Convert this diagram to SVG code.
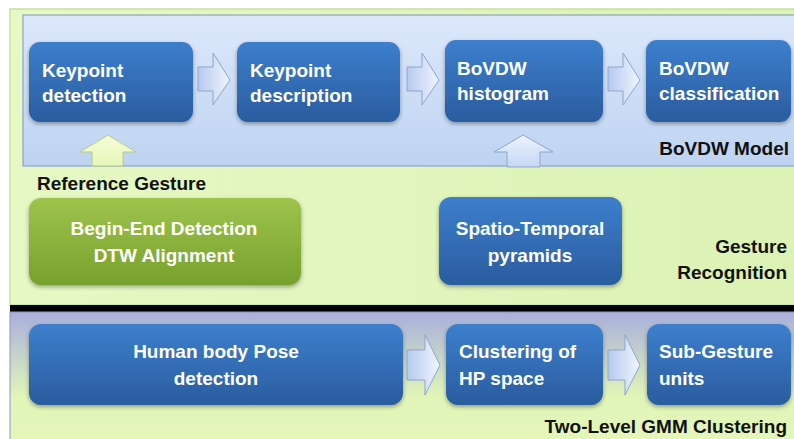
<svg xmlns="http://www.w3.org/2000/svg" width="794" height="439" viewBox="0 0 794 439">
  <defs>
    <linearGradient id="gOuter" x1="0" y1="0" x2="1" y2="0">
      <stop offset="0" stop-color="#e6f8c4"/>
      <stop offset="1" stop-color="#dcf2b4"/>
    </linearGradient>
    <linearGradient id="gInner" x1="0" y1="0" x2="0" y2="1">
      <stop offset="0" stop-color="#dde8fb"/>
      <stop offset="1" stop-color="#bed3f1"/>
    </linearGradient>
    <linearGradient id="gLower" x1="0" y1="0" x2="0" y2="1">
      <stop offset="0" stop-color="#a9afdc"/>
      <stop offset="0.65" stop-color="#e1f5b8"/>
      <stop offset="1" stop-color="#e4f6b8"/>
    </linearGradient>
    <linearGradient id="gNode" x1="0" y1="0" x2="0" y2="1">
      <stop offset="0" stop-color="#3d7fcd"/>
      <stop offset="1" stop-color="#2a5c9f"/>
    </linearGradient>
    <linearGradient id="gGreen" x1="0" y1="0" x2="0" y2="1">
      <stop offset="0" stop-color="#9ec44c"/>
      <stop offset="1" stop-color="#77a02d"/>
    </linearGradient>
    <linearGradient id="gArrow" x1="0" y1="0" x2="1" y2="0">
      <stop offset="0" stop-color="#b6caef"/>
      <stop offset="1" stop-color="#f0f5fe"/>
    </linearGradient>
    <linearGradient id="gArrowUp" x1="0" y1="1" x2="0" y2="0">
      <stop offset="0" stop-color="#c4d7f4"/>
      <stop offset="1" stop-color="#eef4fd"/>
    </linearGradient>
    <linearGradient id="gArrowGreen" x1="0" y1="1" x2="0" y2="0">
      <stop offset="0" stop-color="#e6f7b8"/>
      <stop offset="1" stop-color="#f5fcd8"/>
    </linearGradient>
    <filter id="shadow" x="-10%" y="-10%" width="120%" height="130%">
      <feDropShadow dx="0" dy="2" stdDeviation="2" flood-color="#000" flood-opacity="0.35"/>
    </filter>
  </defs>
  <style>
    .node { fill: url(#gNode); filter: url(#shadow); }
    .gnode { fill: url(#gGreen); filter: url(#shadow); }
    .ntxt { font-family: "Liberation Sans", Arial, sans-serif; font-weight: bold; font-size: 19px; fill: #ffffff; }
    .ctr { text-anchor: middle; }
    .lbl { font-family: "Liberation Sans", Arial, sans-serif; font-weight: bold; font-size: 19px; fill: #111111; }
    .rgt { text-anchor: end; }
    .arr { fill: url(#gArrow); stroke: #8ea5cb; stroke-width: 1; }
    .arrup { fill: url(#gArrowUp); stroke: #8ea5cb; stroke-width: 1; }
    .arrg { fill: url(#gArrowGreen); stroke: #b5cc86; stroke-width: 1; }
  </style>

  <rect width="794" height="439" fill="#ffffff"/>

  <!-- Gesture recognition panel -->
  <rect x="10" y="9" width="790" height="296" fill="url(#gOuter)" stroke="#c6e09c" stroke-width="1.5"/>
  <!-- BoVDW model panel -->
  <rect x="23" y="15" width="775" height="151" fill="url(#gInner)" stroke="#8aa3ca" stroke-width="1.2"/>
  <!-- separator -->
  <rect x="10" y="305" width="790" height="7" fill="#000000"/>
  <!-- Two-level clustering panel -->
  <rect x="10" y="312" width="790" height="130" fill="url(#gLower)" stroke="#8e97bf" stroke-width="1"/>

  <!-- connectors -->
  <g id="connectors">
    <path class="arr" d="M198,67 H213 V53 L230,80 L213,105 V91 H198 Z"/>
    <path class="arr" d="M407,67 H422 V53 L439,80 L422,105 V91 H407 Z"/>
    <path class="arr" d="M608,67 H623 V53 L640,80 L623,105 V91 H608 Z"/>
    <path class="arrg" d="M92,166 V152 H80 L108,135 L136,152 H123 V166 Z"/>
    <path class="arrup" d="M507,167 V152 H494 L523,135 L553,152 H540 V167 Z"/>
    <path class="arr" d="M407,350 H425 V335 L440,365 L425,395 V380 H407 Z"/>
    <path class="arr" d="M608,350 H625 V335 L640,365 L625,395 V380 H608 Z"/>
  </g>

  <g id="keypoint-detection">
    <rect class="node" x="29" y="42" width="164" height="80" rx="11"/>
    <text class="ntxt" x="42" y="77">Keypoint</text>
    <text class="ntxt" x="42" y="102">detection</text>
  </g>
  <g id="keypoint-description">
    <rect class="node" x="237" y="42" width="163" height="80" rx="11"/>
    <text class="ntxt" x="250" y="77">Keypoint</text>
    <text class="ntxt" x="250" y="102">description</text>
  </g>
  <g id="bovdw-histogram">
    <rect class="node" x="445" y="40" width="158" height="82" rx="11"/>
    <text class="ntxt" x="457" y="75">BoVDW</text>
    <text class="ntxt" x="457" y="100">histogram</text>
  </g>
  <g id="bovdw-classification">
    <rect class="node" x="646" y="40" width="145" height="82" rx="11"/>
    <text class="ntxt" x="659" y="75">BoVDW</text>
    <text class="ntxt" x="659" y="100">classification</text>
  </g>

  <text class="lbl rgt" x="789" y="155">BoVDW Model</text>
  <text class="lbl" x="37" y="190">Reference Gesture</text>

  <g id="begin-end-detection">
    <rect class="gnode" x="29" y="198" width="272" height="87" rx="12"/>
    <text class="ntxt ctr" x="164" y="235">Begin-End Detection</text>
    <text class="ntxt ctr" x="164" y="262">DTW Alignment</text>
  </g>
  <g id="spatio-temporal-pyramids">
    <rect class="node" x="439" y="197" width="183" height="88" rx="12"/>
    <text class="ntxt ctr" x="530" y="235">Spatio-Temporal</text>
    <text class="ntxt ctr" x="530" y="262">pyramids</text>
  </g>

  <text class="lbl rgt" x="787" y="253">Gesture</text>
  <text class="lbl rgt" x="787" y="279">Recognition</text>

  <g id="human-body-pose">
    <rect class="node" x="29" y="324" width="374" height="81" rx="12"/>
    <text class="ntxt ctr" x="216" y="358">Human body Pose</text>
    <text class="ntxt ctr" x="216" y="385">detection</text>
  </g>
  <g id="clustering-hp-space">
    <rect class="node" x="446" y="324" width="157" height="81" rx="12"/>
    <text class="ntxt" x="459" y="358">Clustering of</text>
    <text class="ntxt" x="459" y="385">HP space</text>
  </g>
  <g id="sub-gesture-units">
    <rect class="node" x="647" y="324" width="144" height="81" rx="12"/>
    <text class="ntxt" x="659" y="358">Sub-Gesture</text>
    <text class="ntxt" x="659" y="385">units</text>
  </g>

  <text class="lbl rgt" x="787" y="433">Two-Level GMM Clustering</text>
</svg>
